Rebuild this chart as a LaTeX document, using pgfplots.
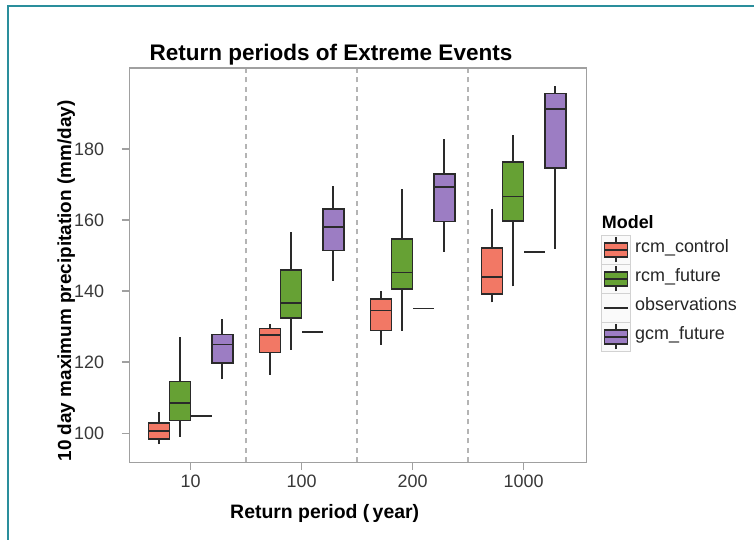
\documentclass[border=0pt]{standalone}
\usepackage{fontspec}
\setmainfont{Liberation Sans}
\usepackage{pgfplots}
\pgfplotsset{compat=1.18}
\definecolor{rcmred}{HTML}{F27865}
\definecolor{rcmgreen}{HTML}{66A134}
\definecolor{gcmpurple}{HTML}{9C7DC3}
\definecolor{frameteal}{HTML}{2A8E9C}
\definecolor{outl}{HTML}{2A2A2A}
\definecolor{axgray}{HTML}{A0A0A0}
\definecolor{dashgray}{HTML}{B4B4B4}
% #1 left, #2 centre, #3 right, #4 lower whisker, #5 lower quartile, #6 median, #7 upper quartile, #8 upper whisker, #9 colour
\newcommand{\bx}[9]{%
  \addplot[outl, line width=1.7bp] coordinates {(#2,#4) (#2,#5)};
  \addplot[outl, line width=1.7bp] coordinates {(#2,#7) (#2,#8)};
  \addplot[fill=#9, draw=outl, line width=1.6bp, line join=miter] coordinates {(#1,#5) (#3,#5) (#3,#7) (#1,#7) (#1,#5)} -- cycle;
  \addplot[outl, line width=1.7bp] coordinates {(#1,#6) (#3,#6)};}
\begin{document}
\begin{tikzpicture}
\begin{scope}[x=1bp,y=1bp]
\useasboundingbox (0,0) rectangle (754,540);
\fill[white] (0,0) rectangle (754,540);
\draw[frameteal, line width=2bp] (8,0) -- (8,534) -- (754,534);
\end{scope}
\begin{axis}[
  at={(129.3bp,77.7bp)}, anchor=south west, scale only axis,
  width=457.4bp, height=394.3bp,
  xmin=0.447, xmax=4.568, ymin=91.8, ymax=202.8,
  xtick={1,2,3,4}, xticklabels={10,100,200,1000},
  ytick={100,120,140,160,180},
  minor xtick={1.5,2.5,3.5}, xminorgrids,
  minor grid style={dashgray, line width=1.4bp, dash pattern=on 5bp off 4.5bp},
  minor tick length=0pt,
  axis line style={draw=axgray, line width=1.4bp},
  major tick style={axgray, line width=1.3bp},
  tick align=outside, major tick length=7.5bp,
  tick pos=left,
  /pgf/number format/assume math mode=true,
  ticklabel style={font=\fontsize{18}{20}\selectfont, text=black!78, inner sep=0pt},
  yticklabel style={anchor=east, xshift=-17.5bp},
  xticklabel style={anchor=north, yshift=-5.2bp},
]
% 10
\bx{0.62}{0.715}{0.81}{96.9}{98.3}{100.6}{102.8}{105.9}{rcmred}
\bx{0.81}{0.905}{1.0}{99.0}{103.6}{108.5}{114.5}{127.0}{rcmgreen}
\bx{1.19}{1.285}{1.38}{115.2}{119.7}{125.0}{127.8}{132.1}{gcmpurple}
% 100
\bx{1.62}{1.715}{1.81}{116.4}{122.7}{127.6}{129.5}{130.7}{rcmred}
\bx{1.81}{1.905}{2.0}{123.5}{132.4}{136.6}{146.0}{156.6}{rcmgreen}
\bx{2.19}{2.285}{2.38}{142.9}{151.4}{158.0}{163.1}{169.5}{gcmpurple}
% 200
\bx{2.62}{2.715}{2.81}{124.9}{128.9}{134.5}{137.7}{140.1}{rcmred}
\bx{2.81}{2.905}{3.0}{128.9}{140.6}{145.2}{154.7}{168.7}{rcmgreen}
\bx{3.19}{3.285}{3.38}{151.0}{159.6}{169.3}{173.0}{182.8}{gcmpurple}
% 1000
\bx{3.62}{3.715}{3.81}{136.8}{139.2}{144.0}{152.1}{163.1}{rcmred}
\bx{3.81}{3.905}{4.0}{141.3}{159.7}{166.6}{176.4}{184.0}{rcmgreen}
\bx{4.19}{4.285}{4.38}{151.9}{174.6}{191.3}{195.6}{197.8}{gcmpurple}
% observations
\addplot[outl, line width=1.9bp] coordinates {(1.005,104.9) (1.19,104.9)};
\addplot[outl, line width=1.9bp] coordinates {(2.005,128.5) (2.19,128.5)};
\addplot[outl, line width=1.9bp] coordinates {(3.005,135.1) (3.19,135.1)};
\addplot[outl, line width=1.9bp] coordinates {(4.005,151.1) (4.19,151.1)};
\end{axis}
\begin{scope}[x=1bp,y=1bp]
% title and labels
\node[anchor=base west, inner sep=0pt, font=\bfseries\fontsize{22.6}{24}\selectfont] at (149.3,479.3) {Return periods of Extreme Events};
\node[anchor=base, inner sep=0pt, font=\bfseries\fontsize{19.5}{22}\selectfont] at (324.7,21.7) {Return period (\,year)};
\node[anchor=base, rotate=90, inner sep=0pt, font=\bfseries\fontsize{19}{22}\selectfont] at (71,259) {10 day maximum precipitation (mm/day)};
% legend
\node[anchor=base west, inner sep=0pt, font=\bfseries\fontsize{18}{20}\selectfont] at (601.7,311.7) {Model};
\foreach \i/\t in {0/rcm\_control, 1/rcm\_future, 2/observations, 3/gcm\_future}{
  \pgfmathsetmacro{\yt}{304.5-29*\i}
  \pgfmathsetmacro{\yb}{\yt-29}
  \pgfmathsetmacro{\yc}{\yt-14.5}
  \draw[gray!35, fill=gray!4, line width=0.8bp] (601.7,\yt) rectangle (630.2,\yb);
  \node[anchor=mid west, inner sep=0pt, font=\fontsize{18}{20}\selectfont, text=black!85] at (635,\yc) {\t};
}
\foreach \i/\c in {0/rcmred, 1/rcmgreen, 3/gcmpurple}{
  \pgfmathsetmacro{\yc}{304.5-29*\i-14.5}
  \pgfmathsetmacro{\ya}{\yc-12.5}
  \pgfmathsetmacro{\yb}{\yc+12.5}
  \pgfmathsetmacro{\yd}{\yc-7}
  \pgfmathsetmacro{\ye}{\yc+7}
  \draw[outl, line width=1.5bp] (615.95,\ya) -- (615.95,\yb);
  \draw[outl, fill=\c, line width=1.5bp] (604.5,\yd) rectangle (627.4,\ye);
  \draw[outl, line width=1.5bp] (604.5,\yc) -- (627.4,\yc);
}
\draw[outl, line width=1.6bp] (604,232) -- (628,232);
\end{scope}
\end{tikzpicture}
\end{document}
